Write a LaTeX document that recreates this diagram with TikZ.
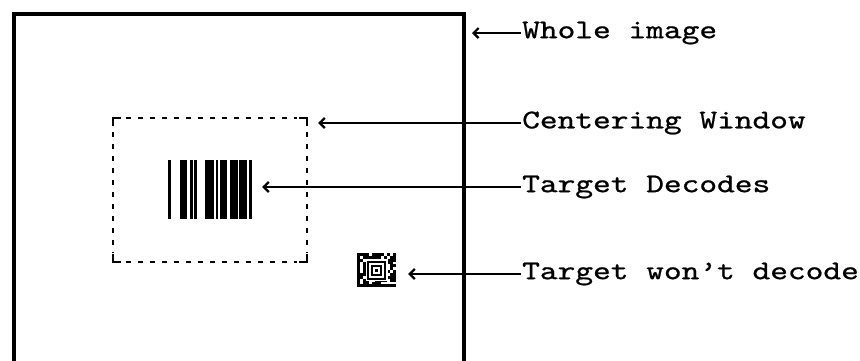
\documentclass[tikz,border=0pt]{standalone}
\usepackage{fontspec}
\usetikzlibrary{arrows.meta}
\newfontfamily\lblfont[FakeStretch=1.25,FakeBold=0.8,Ligatures=TeX]{lmmono10-regular.otf}

\begin{document}
\begin{tikzpicture}[x=1pt,y=-1pt,
    lbl/.style={anchor=west,inner sep=1pt,font=\lblfont\fontsize{27}{32}\selectfont},
    pointer/.style={line width=1.6pt,-{Straight Barb[length=5pt,width=10pt,line width=2.2pt]}},
    wincorner/.style={line width=2pt},
    windash/.style={line width=2pt,dash pattern=on 5pt off 7pt}]
  \useasboundingbox (0,0) rectangle (860,360);
  % whole image frame, open at the bottom
  \draw[line width=4pt] (14,380) -- (14,14) -- (464,14) -- (464,380);
  \coordinate (frameNE) at (464,14);
  % centering window
  \node[minimum width=194pt,minimum height=144pt,inner sep=0] (window) at (210,190) {};
  \draw[wincorner] ([yshift=-8pt]window.north west) -- (window.north west) -- ([xshift=8pt]window.north west);
  \draw[wincorner] ([yshift=-8pt]window.north east) -- (window.north east) -- ([xshift=-8pt]window.north east);
  \draw[wincorner] ([yshift=8pt]window.south west) -- (window.south west) -- ([xshift=8pt]window.south west);
  \draw[wincorner] ([yshift=8pt]window.south east) -- (window.south east) -- ([xshift=-8pt]window.south east);
  \draw[windash] ([xshift=13pt]window.north west) -- ([xshift=-10pt]window.north east);
  \draw[windash] ([xshift=13pt]window.south west) -- ([xshift=-10pt]window.south east);
  \draw[windash] ([yshift=-14pt]window.north west) -- ([yshift=10pt]window.south west);
  \draw[windash] ([yshift=-14pt]window.north east) -- ([yshift=10pt]window.south east);
  % linear barcode
  \node[minimum width=84pt,minimum height=59pt,inner sep=0] (barcode) at (210,189.5) {};
  \foreach \a/\b in {168/171,179.5/187,189.5/192.5,194/197,205/214,215.5/218,219.5/226.5,230/237.5,238.5/247,249/252}
    \fill (\a,160) rectangle (\b,219);
  % 2D code that does not decode
  \node[minimum width=39pt,minimum height=34pt,inner sep=0] (dmcode) at (376.5,270) {};
  \pgfmathsetseed{11}
  \foreach \i in {0,...,12}
    \foreach \j in {0,...,11}{
      \pgfmathsetmacro\r{int(rnd*100)}
      \ifnum\r<62 \fill (357+3*\i,253+2.85*\j) rectangle ++(3,2.85); \fi
    }
  \fill (357,253) rectangle (360,287.2);
  \fill (357,284.35) rectangle (396,287.2);
  \fill[white] (376.5,270) +(-11,-11) rectangle +(11,11);
  \draw[line width=2pt] (376.5,270) +(-8.5,-8.5) rectangle +(8.5,8.5);
  \draw[line width=2pt] (376.5,270) +(-4.5,-4.5) rectangle +(4.5,4.5);
  \fill (376.5,270) +(-1.5,-1.5) rectangle +(1.5,1.5);
  % labels
  \node[lbl] (lblwhole) at (521,33) {Whole image};
  \node[lbl] (lblwin) at (521,123) {Centering Window};
  \node[lbl] (lblbar) at (521,187) {Target Decodes};
  \node[lbl] (lbldm) at (521,274) {Target won't decode};
  \draw[pointer,shorten >=8pt] (lblwhole.west) -- (lblwhole.west -| frameNE);
  \draw[pointer,shorten >=11pt] (lblwin.west) -- (lblwin.west -| window.east);
  \draw[pointer,shorten >=10pt] (lblbar.west) -- (lblbar.west -| barcode.east);
  \draw[pointer,shorten >=12pt] (lbldm.west) -- (lbldm.west -| dmcode.east);
\end{tikzpicture}
\end{document}
